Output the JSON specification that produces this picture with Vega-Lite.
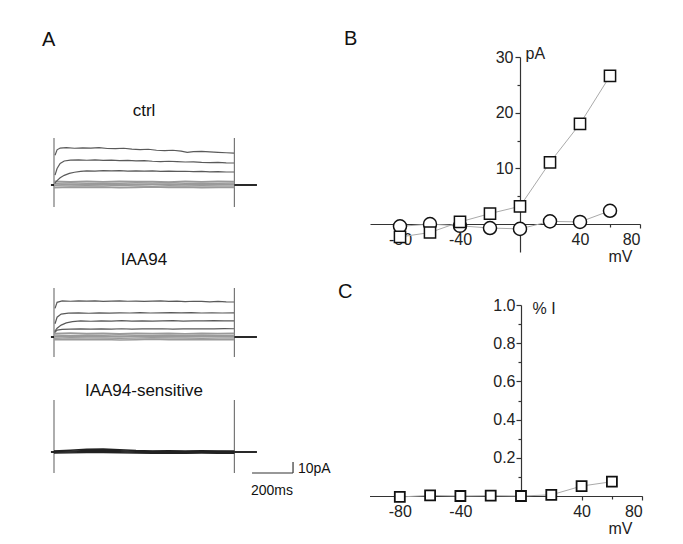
{
"$schema": "https://vega.github.io/schema/vega-lite/v6.json",
"width": 683, "height": 544,
"autosize": {"type": "fit", "contains": "padding"},
"padding": 0,
"background": "white",
"config": {
  "view": {"stroke": null},
  "font": "Liberation Sans",
  "axis": {"grid": false, "domainColor": "#333", "domainWidth": 1.2, "tickColor": "#333", "tickWidth": 1.2, "labelColor": "#222", "labelFont": "Liberation Sans", "labelFontSize": 16, "titleFont": "Liberation Sans", "titleFontSize": 16, "titleFontWeight": "normal", "titleColor": "#222", "labelExpr": "replace(datum.label, '\u2212', '-')"}
},
"datasets": {
  "iv": [
    {"g":"sq","x":-80,"y":-2.3},{"g":"sq","x":-60,"y":-1.5},{"g":"sq","x":-40,"y":0.4},{"g":"sq","x":-20,"y":1.9},{"g":"sq","x":0,"y":3.2},{"g":"sq","x":20,"y":11.1},{"g":"sq","x":40,"y":18.0},{"g":"sq","x":60,"y":26.6},
    {"g":"ci","x":-80,"y":-0.4},{"g":"ci","x":-60,"y":0.0},{"g":"ci","x":-40,"y":-0.3},{"g":"ci","x":-20,"y":-0.7},{"g":"ci","x":0,"y":-0.85},{"g":"ci","x":20,"y":0.5},{"g":"ci","x":40,"y":0.4},{"g":"ci","x":60,"y":2.4}
  ],
  "pc": [
    {"x":-80,"y":-0.005},{"x":-60,"y":0.003},{"x":-40,"y":0.0},{"x":-20,"y":0.002},{"x":0,"y":0.0},{"x":20,"y":0.006},{"x":40,"y":0.052},{"x":60,"y":0.075}
  ],
  "st": [
    {"p":"c","x":0,"y":-20,"y2":42.7},{"p":"c","x":880,"y":-20,"y2":42.7},
    {"p":"i","x":0,"y":-18.2,"y2":44.5},{"p":"i","x":880,"y":-18.2,"y2":44.5},
    {"p":"s","x":0,"y":-19.1,"y2":47.3},{"p":"s","x":880,"y":-19.1,"y2":47.3}
  ],
  "tr": [
    {"p":"c","k":"t","s":"c1","x":5,"y":27},{"p":"c","k":"t","s":"c1","x":15,"y":32},{"p":"c","k":"t","s":"c1","x":30,"y":33.6},{"p":"c","k":"t","s":"c1","x":60,"y":34},{"p":"c","k":"t","s":"c1","x":100,"y":33.4},{"p":"c","k":"t","s":"c1","x":140,"y":33.8},{"p":"c","k":"t","s":"c1","x":180,"y":33.5},{"p":"c","k":"t","s":"c1","x":220,"y":33.9},{"p":"c","k":"t","s":"c1","x":260,"y":33.2},{"p":"c","k":"t","s":"c1","x":300,"y":33},{"p":"c","k":"t","s":"c1","x":340,"y":33.4},{"p":"c","k":"t","s":"c1","x":380,"y":32.6},{"p":"c","k":"t","s":"c1","x":420,"y":32.2},{"p":"c","k":"t","s":"c1","x":460,"y":32.5},{"p":"c","k":"t","s":"c1","x":500,"y":31.6},{"p":"c","k":"t","s":"c1","x":540,"y":31.3},{"p":"c","k":"t","s":"c1","x":580,"y":31.6},{"p":"c","k":"t","s":"c1","x":620,"y":30.8},{"p":"c","k":"t","s":"c1","x":650,"y":29.6},{"p":"c","k":"t","s":"c1","x":680,"y":30.4},{"p":"c","k":"t","s":"c1","x":720,"y":30.6},{"p":"c","k":"t","s":"c1","x":760,"y":30.1},{"p":"c","k":"t","s":"c1","x":800,"y":29.7},{"p":"c","k":"t","s":"c1","x":840,"y":29.3},{"p":"c","k":"t","s":"c1","x":878,"y":29},
    {"p":"c","k":"t","s":"c2","x":5,"y":9},{"p":"c","k":"t","s":"c2","x":15,"y":15},{"p":"c","k":"t","s":"c2","x":30,"y":19.5},{"p":"c","k":"t","s":"c2","x":50,"y":21.8},{"p":"c","k":"t","s":"c2","x":80,"y":22.6},{"p":"c","k":"t","s":"c2","x":120,"y":22.9},{"p":"c","k":"t","s":"c2","x":160,"y":22.5},{"p":"c","k":"t","s":"c2","x":200,"y":22.8},{"p":"c","k":"t","s":"c2","x":240,"y":22.4},{"p":"c","k":"t","s":"c2","x":280,"y":22.6},{"p":"c","k":"t","s":"c2","x":320,"y":22.2},{"p":"c","k":"t","s":"c2","x":360,"y":22.4},{"p":"c","k":"t","s":"c2","x":400,"y":21.9},{"p":"c","k":"t","s":"c2","x":440,"y":22.1},{"p":"c","k":"t","s":"c2","x":480,"y":21.6},{"p":"c","k":"t","s":"c2","x":520,"y":21.3},{"p":"c","k":"t","s":"c2","x":560,"y":21.6},{"p":"c","k":"t","s":"c2","x":600,"y":21.2},{"p":"c","k":"t","s":"c2","x":640,"y":20.9},{"p":"c","k":"t","s":"c2","x":680,"y":21.1},{"p":"c","k":"t","s":"c2","x":720,"y":20.6},{"p":"c","k":"t","s":"c2","x":760,"y":20.4},{"p":"c","k":"t","s":"c2","x":800,"y":20.6},{"p":"c","k":"t","s":"c2","x":840,"y":20.2},{"p":"c","k":"t","s":"c2","x":878,"y":20},
    {"p":"c","k":"t","s":"c3","x":3,"y":1.5},{"p":"c","k":"t","s":"c3","x":15,"y":4},{"p":"c","k":"t","s":"c3","x":30,"y":6.5},{"p":"c","k":"t","s":"c3","x":50,"y":8.8},{"p":"c","k":"t","s":"c3","x":75,"y":10.5},{"p":"c","k":"t","s":"c3","x":100,"y":11.6},{"p":"c","k":"t","s":"c3","x":130,"y":12.3},{"p":"c","k":"t","s":"c3","x":160,"y":12.8},{"p":"c","k":"t","s":"c3","x":200,"y":12.6},{"p":"c","k":"t","s":"c3","x":240,"y":13},{"p":"c","k":"t","s":"c3","x":280,"y":12.8},{"p":"c","k":"t","s":"c3","x":320,"y":13.1},{"p":"c","k":"t","s":"c3","x":360,"y":12.7},{"p":"c","k":"t","s":"c3","x":400,"y":12.9},{"p":"c","k":"t","s":"c3","x":440,"y":12.6},{"p":"c","k":"t","s":"c3","x":480,"y":12.8},{"p":"c","k":"t","s":"c3","x":520,"y":12.4},{"p":"c","k":"t","s":"c3","x":560,"y":12.6},{"p":"c","k":"t","s":"c3","x":600,"y":12.3},{"p":"c","k":"t","s":"c3","x":640,"y":12.5},{"p":"c","k":"t","s":"c3","x":680,"y":12.1},{"p":"c","k":"t","s":"c3","x":720,"y":12.3},{"p":"c","k":"t","s":"c3","x":760,"y":11.9},{"p":"c","k":"t","s":"c3","x":800,"y":12.1},{"p":"c","k":"t","s":"c3","x":840,"y":11.8},{"p":"c","k":"t","s":"c3","x":878,"y":11.8},

    {"p":"c","k":"b","s":"b1","x":0,"y":3.4},{"p":"c","k":"b","s":"b1","x":80,"y":3.0},{"p":"c","k":"b","s":"b1","x":160,"y":3.3},{"p":"c","k":"b","s":"b1","x":240,"y":2.9},{"p":"c","k":"b","s":"b1","x":320,"y":3.5},{"p":"c","k":"b","s":"b1","x":400,"y":3.1},{"p":"c","k":"b","s":"b1","x":480,"y":3.2},{"p":"c","k":"b","s":"b1","x":560,"y":2.8},{"p":"c","k":"b","s":"b1","x":640,"y":3.4},{"p":"c","k":"b","s":"b1","x":720,"y":3.0},{"p":"c","k":"b","s":"b1","x":800,"y":3.3},{"p":"c","k":"b","s":"b1","x":880,"y":3.1},
    {"p":"c","k":"b","s":"b2","x":0,"y":1.6},{"p":"c","k":"b","s":"b2","x":80,"y":2.1},{"p":"c","k":"b","s":"b2","x":160,"y":1.7},{"p":"c","k":"b","s":"b2","x":240,"y":1.9},{"p":"c","k":"b","s":"b2","x":320,"y":1.5},{"p":"c","k":"b","s":"b2","x":400,"y":2.0},{"p":"c","k":"b","s":"b2","x":480,"y":1.8},{"p":"c","k":"b","s":"b2","x":560,"y":2.2},{"p":"c","k":"b","s":"b2","x":640,"y":1.6},{"p":"c","k":"b","s":"b2","x":720,"y":1.9},{"p":"c","k":"b","s":"b2","x":800,"y":1.7},{"p":"c","k":"b","s":"b2","x":880,"y":1.8},
    {"p":"c","k":"b","s":"b3","x":0,"y":0.8},{"p":"c","k":"b","s":"b3","x":80,"y":0.4},{"p":"c","k":"b","s":"b3","x":160,"y":0.7},{"p":"c","k":"b","s":"b3","x":240,"y":0.5},{"p":"c","k":"b","s":"b3","x":320,"y":0.9},{"p":"c","k":"b","s":"b3","x":400,"y":0.3},{"p":"c","k":"b","s":"b3","x":480,"y":0.6},{"p":"c","k":"b","s":"b3","x":560,"y":0.8},{"p":"c","k":"b","s":"b3","x":640,"y":0.4},{"p":"c","k":"b","s":"b3","x":720,"y":0.7},{"p":"c","k":"b","s":"b3","x":800,"y":0.5},{"p":"c","k":"b","s":"b3","x":880,"y":0.6},
    {"p":"c","k":"b","s":"b4","x":0,"y":-0.6},{"p":"c","k":"b","s":"b4","x":80,"y":-1.0},{"p":"c","k":"b","s":"b4","x":160,"y":-0.7},{"p":"c","k":"b","s":"b4","x":240,"y":-0.9},{"p":"c","k":"b","s":"b4","x":320,"y":-0.5},{"p":"c","k":"b","s":"b4","x":400,"y":-0.8},{"p":"c","k":"b","s":"b4","x":480,"y":-1.1},{"p":"c","k":"b","s":"b4","x":560,"y":-0.7},{"p":"c","k":"b","s":"b4","x":640,"y":-0.9},{"p":"c","k":"b","s":"b4","x":720,"y":-0.6},{"p":"c","k":"b","s":"b4","x":800,"y":-0.8},{"p":"c","k":"b","s":"b4","x":880,"y":-0.9},
    {"p":"c","k":"b","s":"b5","x":0,"y":-2.4},{"p":"c","k":"b","s":"b5","x":80,"y":-2.0},{"p":"c","k":"b","s":"b5","x":160,"y":-2.3},{"p":"c","k":"b","s":"b5","x":240,"y":-2.1},{"p":"c","k":"b","s":"b5","x":320,"y":-2.5},{"p":"c","k":"b","s":"b5","x":400,"y":-2.2},{"p":"c","k":"b","s":"b5","x":480,"y":-1.9},{"p":"c","k":"b","s":"b5","x":560,"y":-2.3},{"p":"c","k":"b","s":"b5","x":640,"y":-2.1},{"p":"c","k":"b","s":"b5","x":720,"y":-2.4},{"p":"c","k":"b","s":"b5","x":800,"y":-2.2},{"p":"c","k":"b","s":"b5","x":880,"y":-2.3},

    {"p":"i","k":"t","s":"a1","x":5,"y":26},{"p":"i","k":"t","s":"a1","x":15,"y":31.5},{"p":"i","k":"t","s":"a1","x":40,"y":32.8},{"p":"i","k":"t","s":"a1","x":80,"y":32.5},{"p":"i","k":"t","s":"a1","x":120,"y":32.9},{"p":"i","k":"t","s":"a1","x":160,"y":32.6},{"p":"i","k":"t","s":"a1","x":200,"y":32.8},{"p":"i","k":"t","s":"a1","x":240,"y":32.4},{"p":"i","k":"t","s":"a1","x":280,"y":32.7},{"p":"i","k":"t","s":"a1","x":320,"y":32.9},{"p":"i","k":"t","s":"a1","x":360,"y":32.5},{"p":"i","k":"t","s":"a1","x":400,"y":32.7},{"p":"i","k":"t","s":"a1","x":440,"y":32.3},{"p":"i","k":"t","s":"a1","x":480,"y":32.6},{"p":"i","k":"t","s":"a1","x":520,"y":32.8},{"p":"i","k":"t","s":"a1","x":560,"y":32.4},{"p":"i","k":"t","s":"a1","x":600,"y":32.6},{"p":"i","k":"t","s":"a1","x":640,"y":32.2},{"p":"i","k":"t","s":"a1","x":680,"y":32.5},{"p":"i","k":"t","s":"a1","x":720,"y":32.3},{"p":"i","k":"t","s":"a1","x":760,"y":32},{"p":"i","k":"t","s":"a1","x":800,"y":32.3},{"p":"i","k":"t","s":"a1","x":840,"y":31.9},{"p":"i","k":"t","s":"a1","x":878,"y":31.8},
    {"p":"i","k":"t","s":"a2","x":5,"y":12},{"p":"i","k":"t","s":"a2","x":15,"y":18},{"p":"i","k":"t","s":"a2","x":35,"y":20.8},{"p":"i","k":"t","s":"a2","x":70,"y":21.7},{"p":"i","k":"t","s":"a2","x":120,"y":21.9},{"p":"i","k":"t","s":"a2","x":170,"y":21.6},{"p":"i","k":"t","s":"a2","x":220,"y":21.9},{"p":"i","k":"t","s":"a2","x":270,"y":21.7},{"p":"i","k":"t","s":"a2","x":320,"y":22},{"p":"i","k":"t","s":"a2","x":370,"y":21.8},{"p":"i","k":"t","s":"a2","x":420,"y":22.1},{"p":"i","k":"t","s":"a2","x":470,"y":21.8},{"p":"i","k":"t","s":"a2","x":520,"y":22},{"p":"i","k":"t","s":"a2","x":570,"y":22.2},{"p":"i","k":"t","s":"a2","x":620,"y":21.9},{"p":"i","k":"t","s":"a2","x":670,"y":22.1},{"p":"i","k":"t","s":"a2","x":720,"y":21.8},{"p":"i","k":"t","s":"a2","x":770,"y":22},{"p":"i","k":"t","s":"a2","x":820,"y":21.8},{"p":"i","k":"t","s":"a2","x":878,"y":21.9},
    {"p":"i","k":"t","s":"a3","x":3,"y":5},{"p":"i","k":"t","s":"a3","x":15,"y":8},{"p":"i","k":"t","s":"a3","x":35,"y":10.8},{"p":"i","k":"t","s":"a3","x":60,"y":12.8},{"p":"i","k":"t","s":"a3","x":90,"y":14},{"p":"i","k":"t","s":"a3","x":130,"y":14.6},{"p":"i","k":"t","s":"a3","x":180,"y":14.3},{"p":"i","k":"t","s":"a3","x":230,"y":14.7},{"p":"i","k":"t","s":"a3","x":280,"y":14.4},{"p":"i","k":"t","s":"a3","x":330,"y":14.8},{"p":"i","k":"t","s":"a3","x":380,"y":14.5},{"p":"i","k":"t","s":"a3","x":430,"y":14.7},{"p":"i","k":"t","s":"a3","x":480,"y":14.4},{"p":"i","k":"t","s":"a3","x":530,"y":14.6},{"p":"i","k":"t","s":"a3","x":580,"y":14.8},{"p":"i","k":"t","s":"a3","x":630,"y":14.5},{"p":"i","k":"t","s":"a3","x":680,"y":14.7},{"p":"i","k":"t","s":"a3","x":730,"y":14.6},{"p":"i","k":"t","s":"a3","x":780,"y":14.8},{"p":"i","k":"t","s":"a3","x":830,"y":14.6},{"p":"i","k":"t","s":"a3","x":878,"y":14.7},
    {"p":"i","k":"t","s":"a4","x":3,"y":4},{"p":"i","k":"t","s":"a4","x":15,"y":6.2},{"p":"i","k":"t","s":"a4","x":40,"y":7},{"p":"i","k":"t","s":"a4","x":80,"y":7.2},{"p":"i","k":"t","s":"a4","x":130,"y":7.4},{"p":"i","k":"t","s":"a4","x":180,"y":7.1},{"p":"i","k":"t","s":"a4","x":230,"y":7.4},{"p":"i","k":"t","s":"a4","x":280,"y":7.2},{"p":"i","k":"t","s":"a4","x":330,"y":7.5},{"p":"i","k":"t","s":"a4","x":380,"y":7.2},{"p":"i","k":"t","s":"a4","x":430,"y":7.4},{"p":"i","k":"t","s":"a4","x":480,"y":7.3},{"p":"i","k":"t","s":"a4","x":530,"y":7.5},{"p":"i","k":"t","s":"a4","x":580,"y":7.2},{"p":"i","k":"t","s":"a4","x":630,"y":7.4},{"p":"i","k":"t","s":"a4","x":680,"y":7.3},{"p":"i","k":"t","s":"a4","x":730,"y":7.5},{"p":"i","k":"t","s":"a4","x":780,"y":7.3},{"p":"i","k":"t","s":"a4","x":830,"y":7.6},{"p":"i","k":"t","s":"a4","x":878,"y":7.5},

    {"p":"i","k":"b","s":"d1","x":0,"y":3.2},{"p":"i","k":"b","s":"d1","x":80,"y":3.6},{"p":"i","k":"b","s":"d1","x":160,"y":3.1},{"p":"i","k":"b","s":"d1","x":240,"y":3.4},{"p":"i","k":"b","s":"d1","x":320,"y":3.0},{"p":"i","k":"b","s":"d1","x":400,"y":3.5},{"p":"i","k":"b","s":"d1","x":480,"y":3.2},{"p":"i","k":"b","s":"d1","x":560,"y":3.3},{"p":"i","k":"b","s":"d1","x":640,"y":2.9},{"p":"i","k":"b","s":"d1","x":720,"y":3.4},{"p":"i","k":"b","s":"d1","x":800,"y":3.1},{"p":"i","k":"b","s":"d1","x":880,"y":3.3},
    {"p":"i","k":"b","s":"d2","x":0,"y":1.8},{"p":"i","k":"b","s":"d2","x":80,"y":1.4},{"p":"i","k":"b","s":"d2","x":160,"y":1.9},{"p":"i","k":"b","s":"d2","x":240,"y":1.6},{"p":"i","k":"b","s":"d2","x":320,"y":2.0},{"p":"i","k":"b","s":"d2","x":400,"y":1.5},{"p":"i","k":"b","s":"d2","x":480,"y":1.7},{"p":"i","k":"b","s":"d2","x":560,"y":1.9},{"p":"i","k":"b","s":"d2","x":640,"y":1.5},{"p":"i","k":"b","s":"d2","x":720,"y":1.8},{"p":"i","k":"b","s":"d2","x":800,"y":1.6},{"p":"i","k":"b","s":"d2","x":880,"y":1.7},
    {"p":"i","k":"b","s":"d3","x":0,"y":0.3},{"p":"i","k":"b","s":"d3","x":80,"y":0.7},{"p":"i","k":"b","s":"d3","x":160,"y":0.4},{"p":"i","k":"b","s":"d3","x":240,"y":0.6},{"p":"i","k":"b","s":"d3","x":320,"y":0.2},{"p":"i","k":"b","s":"d3","x":400,"y":0.8},{"p":"i","k":"b","s":"d3","x":480,"y":0.5},{"p":"i","k":"b","s":"d3","x":560,"y":0.3},{"p":"i","k":"b","s":"d3","x":640,"y":0.7},{"p":"i","k":"b","s":"d3","x":720,"y":0.4},{"p":"i","k":"b","s":"d3","x":800,"y":0.6},{"p":"i","k":"b","s":"d3","x":880,"y":0.5},
    {"p":"i","k":"b","s":"d4","x":0,"y":-1.1},{"p":"i","k":"b","s":"d4","x":80,"y":-0.7},{"p":"i","k":"b","s":"d4","x":160,"y":-1.0},{"p":"i","k":"b","s":"d4","x":240,"y":-0.8},{"p":"i","k":"b","s":"d4","x":320,"y":-1.2},{"p":"i","k":"b","s":"d4","x":400,"y":-0.9},{"p":"i","k":"b","s":"d4","x":480,"y":-0.6},{"p":"i","k":"b","s":"d4","x":560,"y":-1.0},{"p":"i","k":"b","s":"d4","x":640,"y":-0.8},{"p":"i","k":"b","s":"d4","x":720,"y":-1.1},{"p":"i","k":"b","s":"d4","x":800,"y":-0.9},{"p":"i","k":"b","s":"d4","x":880,"y":-0.8},
    {"p":"i","k":"b","s":"d5","x":0,"y":-2.6},{"p":"i","k":"b","s":"d5","x":80,"y":-2.2},{"p":"i","k":"b","s":"d5","x":160,"y":-2.5},{"p":"i","k":"b","s":"d5","x":240,"y":-2.3},{"p":"i","k":"b","s":"d5","x":320,"y":-2.7},{"p":"i","k":"b","s":"d5","x":400,"y":-2.4},{"p":"i","k":"b","s":"d5","x":480,"y":-2.1},{"p":"i","k":"b","s":"d5","x":560,"y":-2.5},{"p":"i","k":"b","s":"d5","x":640,"y":-2.3},{"p":"i","k":"b","s":"d5","x":720,"y":-2.6},{"p":"i","k":"b","s":"d5","x":800,"y":-2.4},{"p":"i","k":"b","s":"d5","x":880,"y":-2.5},

    {"p":"s","k":"s","s":"s1","x":0,"y":1.0},{"p":"s","k":"s","s":"s1","x":80,"y":1.6},{"p":"s","k":"s","s":"s1","x":160,"y":2.5},{"p":"s","k":"s","s":"s1","x":240,"y":2.7},{"p":"s","k":"s","s":"s1","x":320,"y":2.0},{"p":"s","k":"s","s":"s1","x":400,"y":1.3},{"p":"s","k":"s","s":"s1","x":480,"y":1.0},{"p":"s","k":"s","s":"s1","x":560,"y":1.2},{"p":"s","k":"s","s":"s1","x":640,"y":0.9},{"p":"s","k":"s","s":"s1","x":720,"y":1.2},{"p":"s","k":"s","s":"s1","x":800,"y":1.0},{"p":"s","k":"s","s":"s1","x":880,"y":0.9},
    {"p":"s","k":"s","s":"s2","x":0,"y":0.4},{"p":"s","k":"s","s":"s2","x":80,"y":0.8},{"p":"s","k":"s","s":"s2","x":160,"y":1.4},{"p":"s","k":"s","s":"s2","x":240,"y":1.6},{"p":"s","k":"s","s":"s2","x":320,"y":1.1},{"p":"s","k":"s","s":"s2","x":400,"y":0.6},{"p":"s","k":"s","s":"s2","x":480,"y":0.4},{"p":"s","k":"s","s":"s2","x":560,"y":0.5},{"p":"s","k":"s","s":"s2","x":640,"y":0.3},{"p":"s","k":"s","s":"s2","x":720,"y":0.5},{"p":"s","k":"s","s":"s2","x":800,"y":0.4},{"p":"s","k":"s","s":"s2","x":880,"y":0.3},
    {"p":"s","k":"s","s":"s3","x":0,"y":-0.3},{"p":"s","k":"s","s":"s3","x":80,"y":0.0},{"p":"s","k":"s","s":"s3","x":160,"y":0.4},{"p":"s","k":"s","s":"s3","x":240,"y":0.6},{"p":"s","k":"s","s":"s3","x":320,"y":0.2},{"p":"s","k":"s","s":"s3","x":400,"y":-0.2},{"p":"s","k":"s","s":"s3","x":480,"y":-0.4},{"p":"s","k":"s","s":"s3","x":560,"y":-0.2},{"p":"s","k":"s","s":"s3","x":640,"y":-0.5},{"p":"s","k":"s","s":"s3","x":720,"y":-0.3},{"p":"s","k":"s","s":"s3","x":800,"y":-0.4},{"p":"s","k":"s","s":"s3","x":880,"y":-0.5},
    {"p":"s","k":"s","s":"s4","x":0,"y":-1.0},{"p":"s","k":"s","s":"s4","x":80,"y":-0.8},{"p":"s","k":"s","s":"s4","x":160,"y":-0.5},{"p":"s","k":"s","s":"s4","x":240,"y":-0.4},{"p":"s","k":"s","s":"s4","x":320,"y":-0.7},{"p":"s","k":"s","s":"s4","x":400,"y":-1.0},{"p":"s","k":"s","s":"s4","x":480,"y":-1.1},{"p":"s","k":"s","s":"s4","x":560,"y":-0.9},{"p":"s","k":"s","s":"s4","x":640,"y":-1.2},{"p":"s","k":"s","s":"s4","x":720,"y":-1.0},{"p":"s","k":"s","s":"s4","x":800,"y":-1.1},{"p":"s","k":"s","s":"s4","x":880,"y":-1.2},

    {"p":"c","k":"z","s":"pre","x":-15,"y":0},{"p":"c","k":"z","s":"pre","x":0,"y":0},{"p":"c","k":"z","s":"post","x":880,"y":0},{"p":"c","k":"z","s":"post","x":990,"y":0},
    {"p":"i","k":"z","s":"pre","x":-15,"y":0},{"p":"i","k":"z","s":"pre","x":0,"y":0},{"p":"i","k":"z","s":"post","x":880,"y":0},{"p":"i","k":"z","s":"post","x":990,"y":0},
    {"p":"s","k":"z","s":"pre","x":-15,"y":0},{"p":"s","k":"z","s":"pre","x":0,"y":0},{"p":"s","k":"z","s":"post","x":880,"y":0},{"p":"s","k":"z","s":"post","x":990,"y":0}
  ]
},
"layer": [
  {
    "encoding": {
      "x": {"field": "x", "type": "quantitative", "scale": {"domain": [-100, 80], "range": [370, 640], "nice": false, "zero": false},
            "axis": {"orient": "bottom", "offset": -320, "values": [-80, -40, 40, 80], "tickSize": 4, "labelPadding": 3, "title": "mV", "titleX": 608, "titleY": 37, "titleAlign": "left", "titleBaseline": "alphabetic", "titleAngle": 0}},
      "y": {"field": "y", "type": "quantitative", "scale": {"domain": [-5, 30], "range": [252, 57], "nice": false, "zero": false},
            "axis": {"orient": "left", "offset": -520, "values": [10, 20, 30], "tickSize": 5, "labelPadding": 2, "title": "pA", "titleX": 5, "titleY": 58, "titleAlign": "left", "titleBaseline": "alphabetic", "titleAngle": 0}}
    },
    "layer": [
      {"data": {"name": "iv"}, "mark": {"type": "line", "color": "#aaaaaa", "strokeWidth": 1}, "encoding": {"detail": {"field": "g"}}},
      {"data": {"name": "iv"}, "transform": [{"filter": "datum.g == 'ci'"}], "mark": {"type": "point", "shape": "circle", "size": 170, "filled": true, "fill": "white", "fillOpacity": 1, "stroke": "#111", "strokeWidth": 1.5, "opacity": 1}},
      {"data": {"name": "iv"}, "transform": [{"filter": "datum.g == 'sq'"}], "mark": {"type": "point", "shape": "square", "size": 125, "filled": true, "fill": "white", "fillOpacity": 1, "stroke": "#111", "strokeWidth": 1.5, "opacity": 1}}
    ]
  },
  {
    "data": {"values": [{"x": -117.3, "y": 32.16, "txt": "B"}]},
    "mark": {"type": "text", "align": "left", "baseline": "alphabetic", "fontSize": 20, "color": "#111"},
    "encoding": {
      "x": {"field": "x", "type": "quantitative", "scale": {"domain": [-100, 80], "range": [370, 640], "nice": false, "zero": false},
            "axis": {"orient": "bottom", "offset": -320, "values": [-60, -20, 20, 60], "tickSize": 3, "labels": false, "domain": false, "title": null}},
      "y": {"field": "y", "type": "quantitative", "scale": {"domain": [-5, 30], "range": [252, 57], "nice": false, "zero": false},
            "axis": {"orient": "left", "offset": -520, "values": [5, 15, 25], "tickSize": 3, "labels": false, "domain": false, "title": null}},
      "text": {"field": "txt"}
    }
  },
  {
    "encoding": {
      "x": {"field": "x", "type": "quantitative", "scale": {"domain": [-100, 80], "range": [369.5, 642.2], "nice": false, "zero": false},
            "axis": {"orient": "bottom", "offset": -48, "values": [-80, -40, 40, 80], "tickSize": 4, "labelPadding": 3, "title": "mV", "titleX": 608, "titleY": 37, "titleAlign": "left", "titleBaseline": "alphabetic", "titleAngle": 0}},
      "y": {"field": "y", "type": "quantitative", "scale": {"domain": [0, 1], "range": [496, 305], "nice": false, "zero": false},
            "axis": {"orient": "left", "offset": -521, "values": [0.2, 0.4, 0.6, 0.8, 1.0], "format": ".1f", "tickSize": 5, "labelPadding": 1, "title": "% I", "titleX": 11, "titleY": 313, "titleAlign": "left", "titleBaseline": "alphabetic", "titleAngle": 0}}
    },
    "layer": [
      {"data": {"name": "pc"}, "mark": {"type": "line", "color": "#aaaaaa", "strokeWidth": 1}},
      {"data": {"name": "pc"}, "mark": {"type": "point", "shape": "square", "size": 100, "filled": true, "fill": "white", "fillOpacity": 1, "stroke": "#111", "strokeWidth": 1.8, "opacity": 1}}
    ]
  },
  {
    "data": {"values": [{"x": -120.8, "y": 1.0366, "txt": "C"}]},
    "mark": {"type": "text", "align": "left", "baseline": "alphabetic", "fontSize": 20, "color": "#111"},
    "encoding": {
      "x": {"field": "x", "type": "quantitative", "scale": {"domain": [-100, 80], "range": [369.5, 642.2], "nice": false, "zero": false},
            "axis": {"orient": "bottom", "offset": -48, "values": [-60, -20, 20, 60], "tickSize": 3, "labels": false, "domain": false, "title": null}},
      "y": {"field": "y", "type": "quantitative", "scale": {"domain": [0, 1], "range": [496, 305], "nice": false, "zero": false},
            "axis": {"orient": "left", "offset": -521, "values": [0.1, 0.3, 0.5, 0.7, 0.9], "tickSize": 3, "labels": false, "domain": false, "title": null}},
      "text": {"field": "txt"}
    }
  },
  {
    "encoding": {
      "x": {"field": "x", "type": "quantitative", "scale": {"domain": [0, 1000], "range": [54, 259], "nice": false, "zero": false}, "axis": null},
      "y": {"field": "y", "type": "quantitative", "scale": {"domain": [0, 40], "range": [185, 141], "nice": false, "zero": false}, "axis": null}
    },
    "layer": [
      {"data": {"name": "st"}, "transform": [{"filter": "datum.p == 'c'"}], "mark": {"type": "rule", "color": "#777", "strokeWidth": 1.2}, "encoding": {"y2": {"field": "y2"}}},
      {"data": {"name": "tr"}, "transform": [{"filter": "datum.p == 'c' && datum.k == 'b'"}], "mark": {"type": "line", "color": "#9a9a9a", "strokeWidth": 1.5}, "encoding": {"detail": {"field": "s"}}},
      {"data": {"name": "tr"}, "transform": [{"filter": "datum.p == 'c' && datum.k == 't'"}], "mark": {"type": "line", "color": "#5a5a5a", "strokeWidth": 1.2}, "encoding": {"detail": {"field": "s"}}},
      {"data": {"name": "tr"}, "transform": [{"filter": "datum.p == 'c' && datum.k == 'z'"}], "mark": {"type": "line", "color": "#111", "strokeWidth": 1.8}, "encoding": {"detail": {"field": "s"}}},
      {"data": {"values": [{"x": 439, "y": 62.7, "txt": "ctrl"}]}, "mark": {"type": "text", "align": "center", "baseline": "alphabetic", "fontSize": 17, "color": "#111"}, "encoding": {"text": {"field": "txt"}}},
      {"data": {"values": [{"x": -58.5, "y": 126.4, "txt": "A"}]}, "mark": {"type": "text", "align": "left", "baseline": "alphabetic", "fontSize": 20, "color": "#111"}, "encoding": {"text": {"field": "txt"}}}
    ]
  },
  {
    "encoding": {
      "x": {"field": "x", "type": "quantitative", "scale": {"domain": [0, 1000], "range": [54, 259], "nice": false, "zero": false}, "axis": null},
      "y": {"field": "y", "type": "quantitative", "scale": {"domain": [0, 40], "range": [337, 293], "nice": false, "zero": false}, "axis": null}
    },
    "layer": [
      {"data": {"name": "st"}, "transform": [{"filter": "datum.p == 'i'"}], "mark": {"type": "rule", "color": "#777", "strokeWidth": 1.2}, "encoding": {"y2": {"field": "y2"}}},
      {"data": {"name": "tr"}, "transform": [{"filter": "datum.p == 'i' && datum.k == 'b'"}], "mark": {"type": "line", "color": "#9a9a9a", "strokeWidth": 1.5}, "encoding": {"detail": {"field": "s"}}},
      {"data": {"name": "tr"}, "transform": [{"filter": "datum.p == 'i' && datum.k == 't'"}], "mark": {"type": "line", "color": "#5a5a5a", "strokeWidth": 1.2}, "encoding": {"detail": {"field": "s"}}},
      {"data": {"name": "tr"}, "transform": [{"filter": "datum.p == 'i' && datum.k == 'z'"}], "mark": {"type": "line", "color": "#111", "strokeWidth": 1.8}, "encoding": {"detail": {"field": "s"}}},
      {"data": {"values": [{"x": 439, "y": 65.5, "txt": "IAA94"}]}, "mark": {"type": "text", "align": "center", "baseline": "alphabetic", "fontSize": 17, "color": "#111"}, "encoding": {"text": {"field": "txt"}}}
    ]
  },
  {
    "encoding": {
      "x": {"field": "x", "type": "quantitative", "scale": {"domain": [0, 1000], "range": [54, 259], "nice": false, "zero": false}, "axis": null},
      "y": {"field": "y", "type": "quantitative", "scale": {"domain": [0, 40], "range": [452, 408], "nice": false, "zero": false}, "axis": null}
    },
    "layer": [
      {"data": {"name": "st"}, "transform": [{"filter": "datum.p == 's'"}], "mark": {"type": "rule", "color": "#777", "strokeWidth": 1.2}, "encoding": {"y2": {"field": "y2"}}},
      {"data": {"name": "tr"}, "transform": [{"filter": "datum.p == 's' && datum.k == 's'"}], "mark": {"type": "line", "color": "#222", "strokeWidth": 1.4}, "encoding": {"detail": {"field": "s"}}},
      {"data": {"name": "tr"}, "transform": [{"filter": "datum.p == 's' && datum.k == 'z'"}], "mark": {"type": "line", "color": "#111", "strokeWidth": 1.8}, "encoding": {"detail": {"field": "s"}}},
      {"data": {"values": [{"x": 966, "y": -19.1, "x2": 1166, "y2": -19.1}, {"x": 1166, "y": -19.1, "x2": 1166, "y2": -9.1}]}, "mark": {"type": "rule", "color": "#333", "strokeWidth": 1.2}, "encoding": {"x2": {"field": "x2"}, "y2": {"field": "y2"}}},
      {"data": {"values": [{"x": 1190, "y": -19.1, "txt": "10pA"}]}, "mark": {"type": "text", "align": "left", "baseline": "alphabetic", "fontSize": 14, "color": "#111"}, "encoding": {"text": {"field": "txt"}}},
      {"data": {"values": [{"x": 1063, "y": -39.5, "txt": "200ms"}]}, "mark": {"type": "text", "align": "center", "baseline": "alphabetic", "fontSize": 14, "color": "#111"}, "encoding": {"text": {"field": "txt"}}},
      {"data": {"values": [{"x": 439, "y": 50.9, "txt": "IAA94-sensitive"}]}, "mark": {"type": "text", "align": "center", "baseline": "alphabetic", "fontSize": 17, "color": "#111"}, "encoding": {"text": {"field": "txt"}}}
    ]
  }
],
"resolve": {"scale": {"x": "independent", "y": "independent"}}
}
